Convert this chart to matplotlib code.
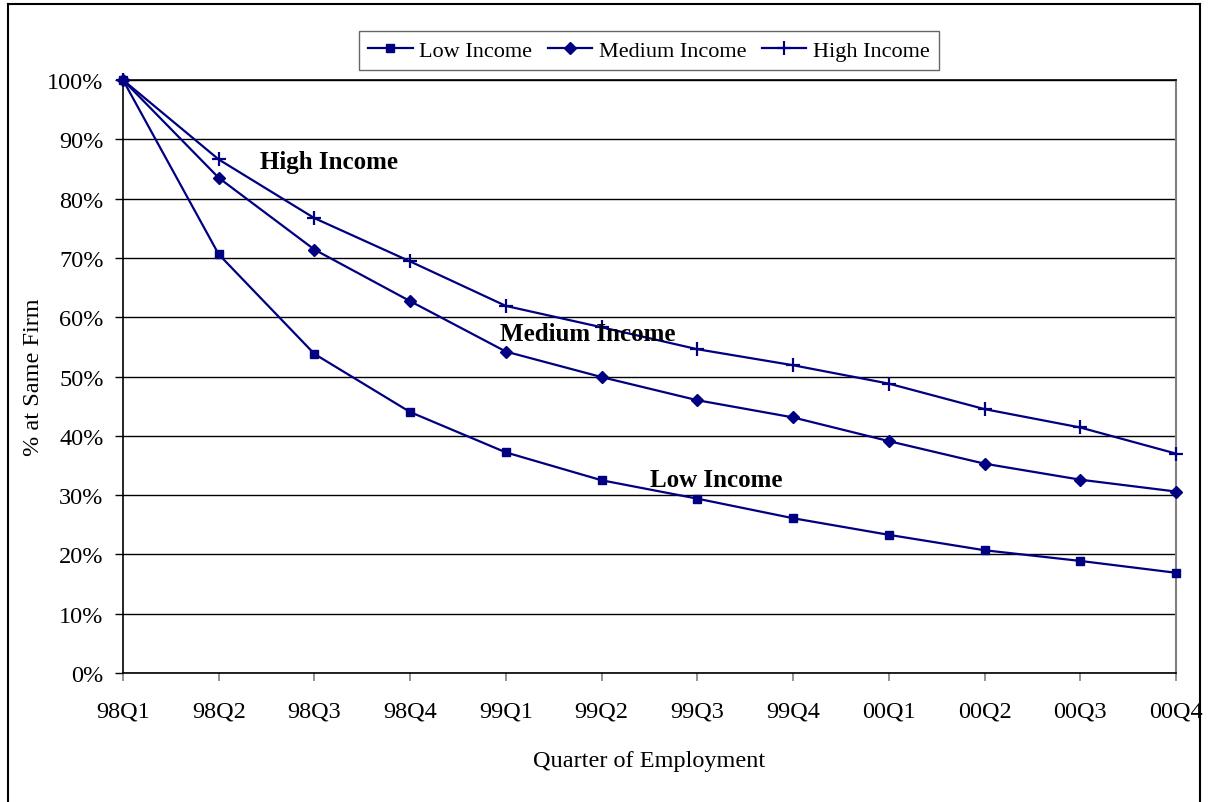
import matplotlib
matplotlib.use("Agg")
import matplotlib.pyplot as plt
from matplotlib.lines import Line2D
import numpy as np

quarters = ["98Q1", "98Q2", "98Q3", "98Q4", "99Q1", "99Q2", "99Q3", "99Q4",
            "00Q1", "00Q2", "00Q3", "00Q4"]
low_income = [100.0, 70.6, 53.8, 44.0, 37.2, 32.5, 29.4, 26.1, 23.3, 20.7, 18.9, 16.9]
medium_income = [100.0, 83.5, 71.4, 62.7, 54.2, 49.9, 46.0, 43.1, 39.1, 35.3, 32.6, 30.6]
high_income = [100.0, 86.6, 76.7, 69.4, 61.9, 58.3, 54.6, 51.9, 48.8, 44.5, 41.4, 37.0]
yticks = list(range(0, 101, 10))

plt.rcParams['font.family'] = ['Liberation Serif', 'DejaVu Serif']
navy = '#000080'

fig = plt.figure(figsize=(12.08, 8.03), dpi=100)
ax = fig.add_axes([123/1208, 1-674/803, (1176-123)/1208, (674-81)/803])

x = np.arange(len(quarters))
ax.plot(x, low_income, color=navy, lw=1.6, marker='s', ms=6, label='Low Income', clip_on=False, zorder=3)
ax.plot(x, medium_income, color=navy, lw=1.6, marker='D', ms=6, label='Medium Income', clip_on=False, zorder=3)
ax.plot(x, high_income, color=navy, lw=1.6, marker='+', ms=10, mew=1.6, label='High Income', clip_on=False, zorder=3)

ax.set_xlim(0, len(quarters)-1)
ax.set_ylim(0, 100)
ax.set_yticks(yticks)
ax.set_yticklabels([f"{v}%" for v in yticks], fontsize=17.5)
ax.set_xticks(x)
ax.set_xticklabels(quarters, fontsize=17.5)
ax.yaxis.grid(True, color='black', lw=1.0)
ax.set_axisbelow(True)
ax.tick_params(axis='y', direction='out', length=6, width=1, color='black', pad=8)
ax.tick_params(axis='x', direction='out', length=6, width=1.2, color='#808080', pad=14)

for s in ['left', 'bottom', 'top']:
    ax.spines[s].set_color('black')
    ax.spines[s].set_linewidth(1.2)
ax.spines['right'].set_color('#808080')
ax.spines['right'].set_linewidth(1.5)

ax.set_xlabel("Quarter of Employment", fontsize=17.5, labelpad=20)
ax.set_ylabel("% at Same Firm", fontsize=17.5, labelpad=2)

ax.text(2.15, 86.2, "High Income", fontsize=18, fontweight='bold', ha='center', va='center')
ax.text(4.85, 57.2, "Medium Income", fontsize=18, fontweight='bold', ha='center', va='center')
ax.text(6.2, 32.7, "Low Income", fontsize=18, fontweight='bold', ha='center', va='center')

leg = ax.legend(loc='center', bbox_to_anchor=((356+942)/2/1208, 1-51.5/803),
                bbox_transform=fig.transFigure, ncol=3, fontsize=16, frameon=True,
                fancybox=False, edgecolor='#404040', handlelength=2.0, handletextpad=0.3,
                columnspacing=0.7, borderpad=0.4)
leg.get_frame().set_linewidth(1.0)

# outer frame
fx0, fx1, fy0 = 8/1208, 1200/1208, 1-5/803
for xs, ys in [([fx0, fx1], [fy0, fy0]), ([fx0, fx0], [fy0, 0]), ([fx1, fx1], [fy0, 0])]:
    fig.add_artist(Line2D(xs, ys, transform=fig.transFigure, color='black', lw=1.5))

fig.savefig("out.png", dpi=100)
